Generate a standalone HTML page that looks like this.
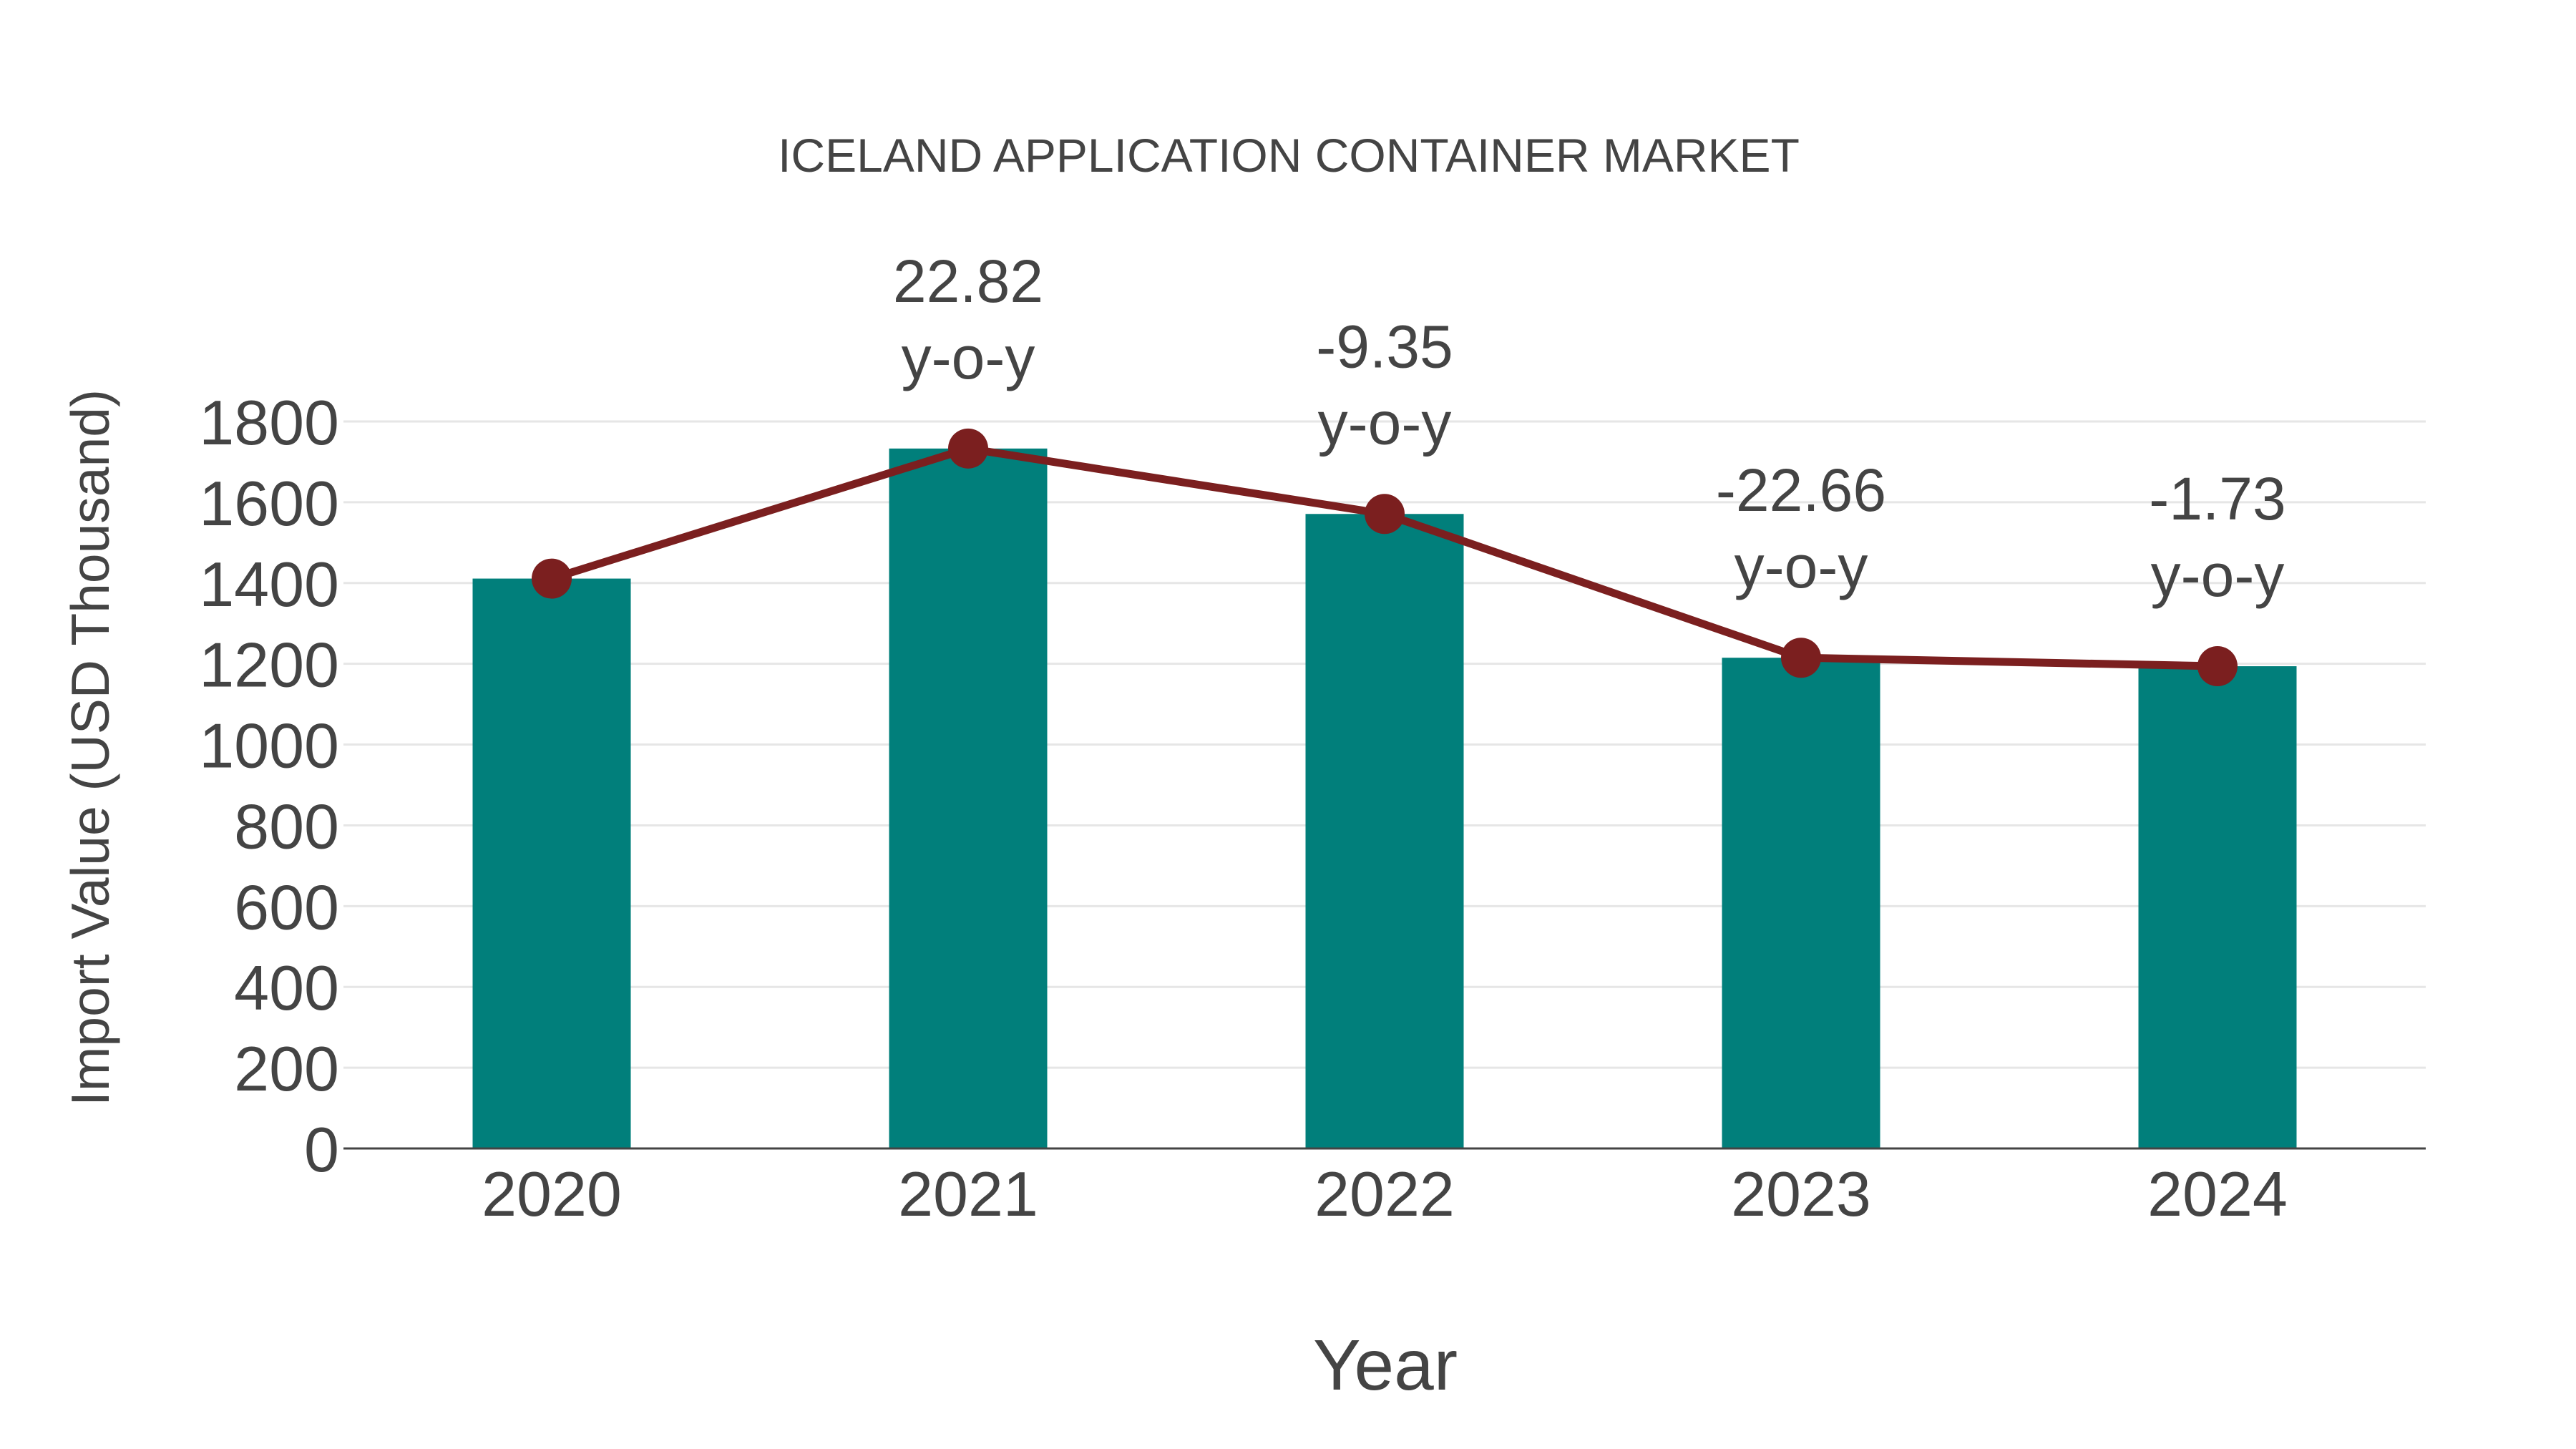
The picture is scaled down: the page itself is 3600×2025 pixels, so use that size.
<!DOCTYPE html>
<html><head><meta charset="utf-8"><style>
html,body{margin:0;padding:0;background:#fff;}
svg{display:block;font-family:"Liberation Sans",Arial,sans-serif;}
</style></head><body>
<svg id="chart" width="3600" height="2025" viewBox="0 0 3600 2025">
<text x="1801" y="240" font-size="66" fill="#444" text-anchor="middle">ICELAND APPLICATION CONTAINER MARKET</text>
<text transform="translate(152,1045) rotate(-90)" font-size="75" fill="#444" text-anchor="middle">Import Value (USD Thousand)</text>
<text x="1936" y="1942" font-size="100" fill="#444" text-anchor="middle">Year</text>
<g id="grid"></g><g id="bars"></g><g id="axis"></g><g id="line"></g><g id="labels"></g>
</svg>
<script>
const categories = ["2020","2021","2022","2023","2024"];
const values = [1411, 1733, 1571, 1215, 1194];
const yoyLabels = ["", "22.82", "-9.35", "-22.66", "-1.73"];
const yTicks = [0,200,400,600,800,1000,1200,1400,1600,1800];

const NS = "http://www.w3.org/2000/svg";
const L = 480, R = 3390, Y0 = 1605, Y1800 = 589;
function yScale(v){ return Y0 - v * (Y0 - Y1800) / 1800; }
function xScale(i){ const bw = (R - L) / categories.length; return L + bw * (i + 0.5); }
function mk(tag, attrs, parent){ const e = document.createElementNS(NS, tag); for (const k in attrs) e.setAttribute(k, attrs[k]); parent.appendChild(e); return e; }

const grid = document.getElementById('grid');
const axis = document.getElementById('axis');
yTicks.forEach(t => {
  if (t > 0) {
    const g = mk('line', {x1:L, x2:R, y1:yScale(t), y2:yScale(t), stroke:'#e6e6e6', 'stroke-width':3}, grid);
    
    
  }
  const lbl = mk('text', {x:474, y:yScale(t) + 32, 'font-size':88, fill:'#444', 'text-anchor':'end'}, axis);
  lbl.textContent = t;
  
  
});

const bars = document.getElementById('bars');
const barW = 221;
values.forEach((v, i) => {
  const b = mk('rect', {x:xScale(i) - barW/2, y:yScale(v), width:barW, height:Y0 - yScale(v), fill:'#017f7b'}, bars);
  
  
  const xl = mk('text', {x:xScale(i), y:1699, 'font-size':88, fill:'#444', 'text-anchor':'middle'}, axis);
  xl.textContent = categories[i];
  
  
});
const ax = mk('line', {x1:L, x2:R, y1:Y0, y2:Y0, stroke:'#444', 'stroke-width':3}, axis);



const lineG = document.getElementById('line');
const pts = values.map((v, i) => xScale(i) + ',' + yScale(v)).join(' ');
const pl = mk('polyline', {points:pts, fill:'none', stroke:'#7b1f1f', 'stroke-width':11, 'stroke-linejoin':'round'}, lineG);


values.forEach((v, i) => {
  const c = mk('circle', {cx:xScale(i), cy:yScale(v), r:28, fill:'#7b1f1f'}, lineG);
  
  
});

const labels = document.getElementById('labels');
values.forEach((v, i) => {
  if (!yoyLabels[i]) return;
  const py = yScale(v);
  const t1 = mk('text', {x:xScale(i), y:py - 236 + 31, 'font-size':84, fill:'#444', 'text-anchor':'middle'}, labels);
  t1.textContent = yoyLabels[i];
  
  
  const t2 = mk('text', {x:xScale(i), y:py - 126 + 28, 'font-size':84, fill:'#444', 'text-anchor':'middle'}, labels);
  t2.textContent = 'y-o-y';
  
  
});
</script>
</body></html>
